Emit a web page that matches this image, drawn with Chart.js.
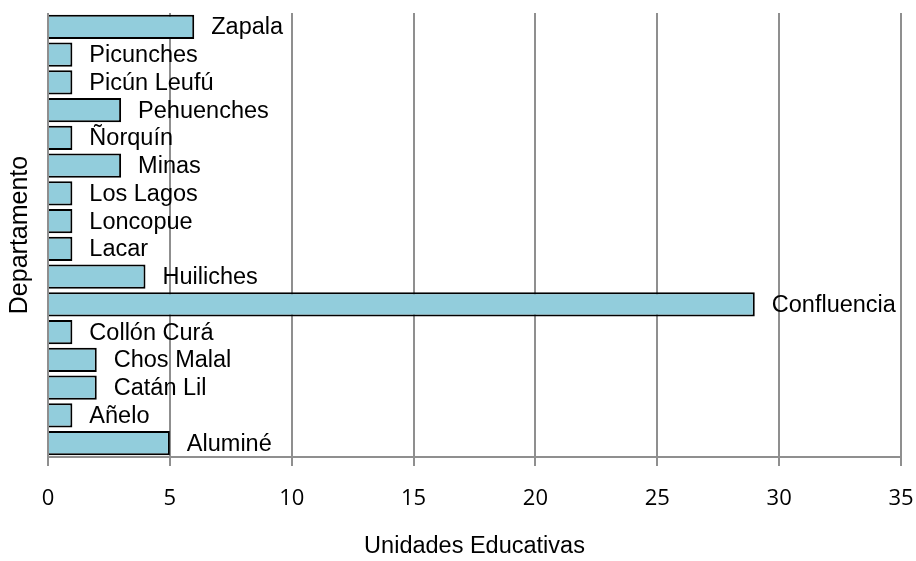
<!DOCTYPE html>
<html>
<head>
<meta charset="utf-8">
<script src="https://cdn.jsdelivr.net/npm/chart.js@4.4.0/dist/chart.umd.min.js"></script>
<style>
  html, body { margin: 0; padding: 0; background: #fff; }
  #wrap { width: 916px; height: 561px; }
</style>
</head>
<body>
<div id="wrap"><canvas id="chart" width="916" height="561"></canvas></div>
<script>
const departamentos = ['Zapala', 'Picunches', 'Picún Leufú', 'Pehuenches', 'Ñorquín', 'Minas',
  'Los Lagos', 'Loncopue', 'Lacar', 'Huiliches', 'Confluencia', 'Collón Curá',
  'Chos Malal', 'Catán Lil', 'Añelo', 'Aluminé'];
const unidades = [6, 1, 1, 3, 1, 3, 1, 1, 1, 4, 29, 1, 2, 2, 1, 5];
const xTicks = [0, 5, 10, 15, 20, 25, 30, 35];

// category name written just right of each bar
const barLabels = {
  id: 'barLabels',
  afterDatasetsDraw(chart) {
    const ctx = chart.ctx;
    const meta = chart.getDatasetMeta(0);
    ctx.save();
    ctx.font = '23.5px "Liberation Sans", Arial, sans-serif';
    ctx.fillStyle = '#000';
    ctx.textAlign = 'left';
    ctx.textBaseline = 'middle';
    meta.data.forEach((bar, i) => {
      ctx.fillText(chart.data.labels[i], bar.x + 17, bar.y + 1);
    });
    ctx.restore();
  }
};

new Chart(document.getElementById('chart'), {
  type: 'bar',
  data: {
    labels: departamentos,
    datasets: [{
      data: unidades,
      backgroundColor: '#92CDDC',
      borderColor: '#000',
      borderWidth: 2,
      categoryPercentage: 1,
      barPercentage: 0.88
    }]
  },
  options: {
    indexAxis: 'y',
    responsive: false,
    animation: false,
    layout: { padding: { top: 13, right: 0, left: 0, bottom: 0 } },
    plugins: { legend: { display: false }, tooltip: { enabled: false } },
    scales: {
      x: {
        min: 0,
        max: 35,
        afterBuildTicks(axis) { axis.ticks = xTicks.map(v => ({ value: v })); },
        afterFit(axis) {
          axis.height = 104;
          axis.paddingRight = 15;
          axis.paddingLeft = 0;
        },
        grid: { color: '#8f8f8f', lineWidth: 2, tickLength: 9, drawTicks: true },
        border: { color: '#8f8f8f', width: 2 },
        ticks: { color: '#000', padding: 20, font: { family: '"Open Sans", sans-serif', size: 22 } },
        title: {
          display: true,
          text: 'Unidades Educativas',
          color: '#000',
          padding: { top: 0, bottom: 0 },
          font: { family: '"Liberation Sans", Arial, sans-serif', size: 23.5 }
        }
      },
      y: {
        afterFit(axis) { axis.width = 48; },
        grid: { display: false },
        border: { display: false },
        ticks: { display: false },
        title: {
          display: true,
          text: 'Departamento',
          color: '#000',
          padding: { top: 5, bottom: 0 },
          font: { family: '"Liberation Sans", Arial, sans-serif', size: 25 }
        }
      }
    }
  },
  plugins: [barLabels]
});
</script>
</body>
</html>
